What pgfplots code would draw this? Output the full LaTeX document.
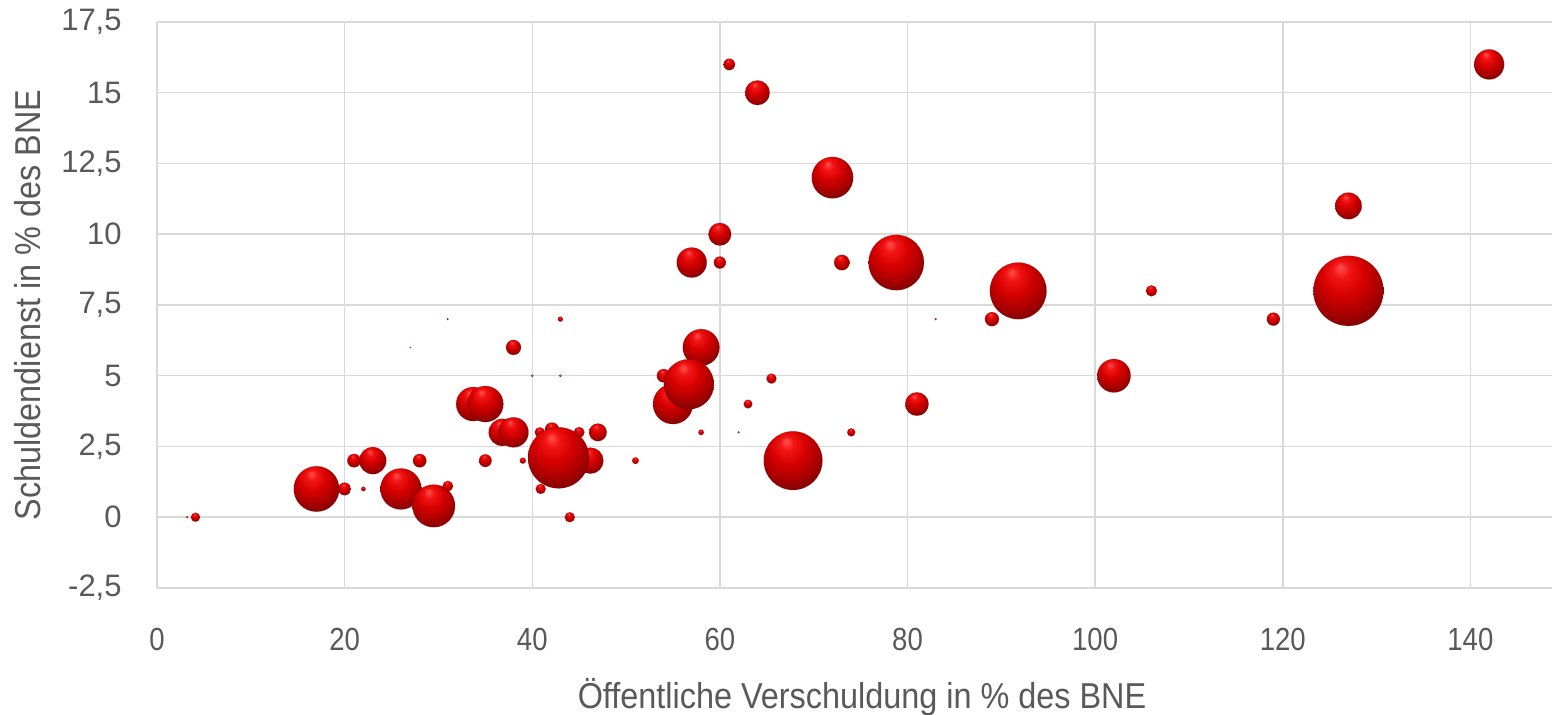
\documentclass[border=0pt]{standalone}
\usepackage{pgfplots}
\usepackage{pgfplotstable}
\pgfplotsset{compat=1.18}
\usepackage{fontspec}
\setmainfont{Liberation Sans}
\newfontfamily\narrowfont[FakeStretch=0.9]{Liberation Sans}
\newfontfamily\ticknarrow[FakeStretch=0.86]{Liberation Sans}
\definecolor{txt}{HTML}{595959}
\definecolor{gridc}{HTML}{D9D9D9}
\definecolor{axc}{HTML}{BFBFBF}
\definecolor{ballrim}{rgb}{0.45,0,0}
\pgfdeclareradialshading{ball}{\pgfqpoint{-6bp}{17bp}}{rgb(0bp)=(1,0.32,0.32); rgb(6bp)=(0.95,0.08,0.08); rgb(15bp)=(0.84,0,0); rgb(24bp)=(0.68,0,0); rgb(33bp)=(0.48,0.02,0.02); rgb(42bp)=(0.36,0.03,0.03); rgb(50bp)=(0.4,0.04,0.04)}
\pgfplotstableread{
x y r
3.2 0 1
4.1 0 4.5
17 1 22.7
20 1 6.3
21 2 6.7
22 1 2.2
23 2 13.5
26 1 20.5
28 2 6.7
29.5 0.4 21.3
31 1.1 5.2
27 6 0.7
31 7 1
33.7 4 17
35 4 18
35 2 6.3
36.8 3 13.5
38 3 15
38 6 7.5
39 2 3
40 5 1.2
43 5 1.2
43 7 2.5
40.9 1 5
40.8 3 5
42.1 3.1 7
45 3 5.3
46.2 2 13
42.8 2.1 30.5
44 0 5
47 3 8.8
51 2 3.3
54 5 6.7
55 4 20
58 6 18.3
56.7 4.7 25
58 3 2.7
62 3 1
63 4 4.3
65.5 4.9 5
67.8 2 29.3
57 9 15
60 9 6
60 10 11.3
61 16 5.7
64 15 12.3
72 12 20.7
73 9 7.7
74 3 4
78.8 9 27.7
81 4 11.7
83 7 1
89 7 7
91.8 8 28.3
102 5 16.7
106 8 5.5
119 7 6.5
127 11 13.3
127 8 35
142 16 15
}\bubbles
\begin{document}
\begin{tikzpicture}
\path[use as bounding box] (0,0) rectangle (776bp,357.5bp);
\begin{axis}[
  at={(78.5bp,63.5bp)}, anchor=south west,
  scale only axis, width=697.5bp, height=283bp,
  xmin=0, xmax=148.7, ymin=-2.5, ymax=17.5,
  xtick={0,20,...,140}, ytick={-2.5,0,...,17.5},
  axis line style={draw=none},
  grid=major, major grid style={gridc, line width=0.75bp},
  tick style={draw=none},
  extra x ticks={0}, extra y ticks={0},
  extra tick style={grid style={axc, line width=0.9bp}, ticklabel style={opacity=0}},
  /pgf/number format/use comma, /pgf/number format/assume math mode=true,
  yticklabel style={font=\fontsize{15.5bp}{17bp}\selectfont, text=txt, anchor=east, inner sep=0pt},
  yticklabel shift=17.5bp,
  xticklabel style={font=\ticknarrow\fontsize{16bp}{18bp}\selectfont, text=txt, anchor=north, inner sep=0pt},
  xticklabel shift=20bp,
  xlabel={Öffentliche Verschuldung in \% des BNE},
  ylabel={Schuldendienst in \% des BNE},
  xlabel style={font=\narrowfont\fontsize{18bp}{20bp}\selectfont, text=txt, at={(axis description cs:0.5054,-0.1926)}, anchor=center},
  ylabel style={font=\narrowfont\fontsize{18bp}{20bp}\selectfont, text=txt, at={(axis description cs:-0.093,0.5)}, anchor=center},
  clip=true,
]
\addplot[scatter, only marks, mark=ball,
  scatter/use mapped color={draw=ballrim, draw opacity=0.35, line width=0.25bp},
  visualization depends on={\thisrow{r} \as \rad},
  scatter/@pre marker code/.append style={/tikz/mark size=0.502*\rad}]
  table[x=x, y=y] {\bubbles};
\end{axis}
\end{tikzpicture}
\end{document}
